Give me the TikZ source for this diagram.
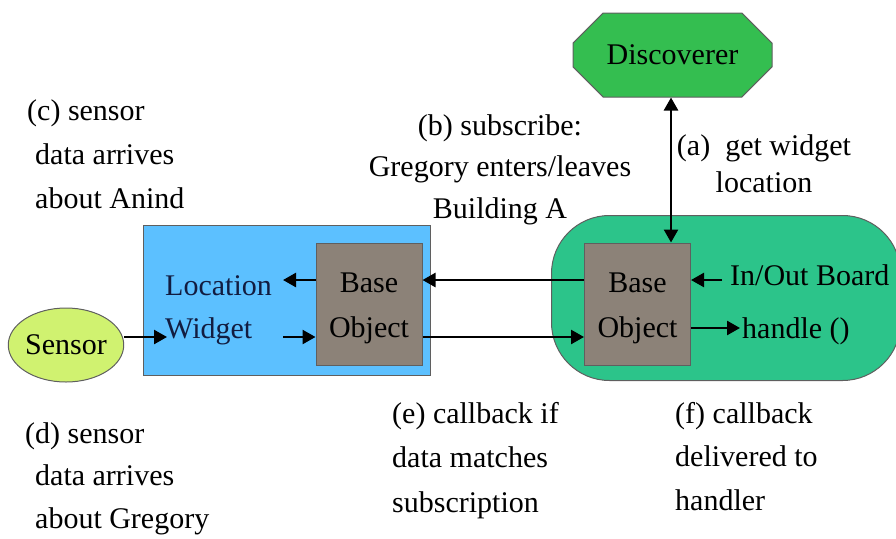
\documentclass[tikz,border=0pt]{standalone}
\usepackage{fontspec}
\setmainfont{Liberation Serif}
\usetikzlibrary{arrows.meta,shapes.misc,shapes.geometric}

\definecolor{discgreen}{RGB}{52,190,80}
\definecolor{widgetblue}{RGB}{92,192,255}
\definecolor{boardgreen}{RGB}{44,196,138}
\definecolor{sensorgreen}{RGB}{208,242,112}
\definecolor{basebrown}{RGB}{140,130,120}
\definecolor{edgegray}{RGB}{95,95,95}
\definecolor{navy}{RGB}{18,28,64}

\newcommand\lblfont[1]{\fontsize{30}{#1}\selectfont}

\tikzset{
  box/.style={draw=edgegray, line width=1pt},
  baseobj/.style={box, fill=basebrown, minimum width=106pt, minimum height=122pt,
    inner sep=0pt, align=center, font=\lblfont{45}},
  arr/.style={line width=2.5pt, -{Triangle[length=13pt,width=14pt]}},
  biarr/.style={line width=2.5pt, {Triangle[length=13pt,width=14pt]}-{Triangle[length=13pt,width=14pt]}},
  lbl/.style={inner sep=0pt, anchor=base west, align=left},
}

\begin{document}
\begin{tikzpicture}[x=1pt,y=-1pt]
\useasboundingbox (0,0) rectangle (896,538);

% containers
\node[box, fill=boardgreen, rounded corners=58pt, minimum width=349pt, minimum height=165pt,
      anchor=north west] (board) at (551,215) {};
\node[box, fill=widgetblue, minimum width=287pt, minimum height=150pt,
      anchor=north west] (widget) at (143,225) {};

% discoverer
\node[box, fill=discgreen, chamfered rectangle, chamfered rectangle xsep=20pt,
      chamfered rectangle ysep=20pt, minimum width=199pt, minimum height=84pt,
      inner sep=0pt, font=\lblfont{40}] (disc) at (672.5,55) {Discoverer};

% sensor
\node[box, fill=sensorgreen, ellipse, minimum width=107pt, minimum height=74pt,
      inner sep=0pt, font=\lblfont{40}] (sensor) at (66,345) {Sensor};

% base objects (the strut lowers the two lines a little)
\node[baseobj] (lbase) at (369,304) {\rule{0pt}{28pt}Base\\Object};
\node[baseobj] (rbase) at (637.5,304) {\rule{0pt}{28pt}Base\\Object};

% text inside containers (multi-line nodes are anchored at their last baseline)
\node[lbl, text=navy, font=\lblfont{43}] (loc) at (165,338) {Location\\Widget};
\node[lbl, font=\lblfont{40}] (io) at (730,285) {In/Out Board};
\node[lbl, font=\lblfont{40}] (handle) at (742,338) {handle ()};

% annotations
\node[lbl, font=\lblfont{44}] (notec) at (27,208)
  {(c) sensor\\\hspace*{8pt}data arrives\\\hspace*{8pt}about Anind};
\node[inner sep=0pt, anchor=base, align=center, font=\lblfont{41.5}] (noteb) at (500,218)
  {(b) subscribe:\\Gregory enters/leaves\\Building A};
\node[inner sep=0pt, anchor=base, align=center, font=\lblfont{37}] (notea) at (764,192)
  {(a)\ \ get widget\\location};
\node[lbl, font=\lblfont{42.5}] (noted) at (25,528)
  {(d) sensor\\\hspace*{10pt}data arrives\\\hspace*{10pt}about Gregory};
\node[lbl, font=\lblfont{44.5}] (notee) at (392,512)
  {(e) callback if\\data matches\\subscription};
\node[lbl, font=\lblfont{43.5}] (notef) at (675,510)
  {(f) callback\\delivered to\\handler};

% free ends of connectors
\coordinate (wtip) at (167,337);
\coordinate (lout) at (283,280);
\coordinate (lin) at (283,337);
\coordinate (ioend) at (722,280);
\coordinate (hend) at (740,328);
\coordinate (alink) at (671,0);
\coordinate (upper) at (0,280);
\coordinate (lower) at (0,337);

% connectors
\draw[biarr] (disc.south -| alink) -- (rbase.north -| alink);
\draw[arr] (sensor.east |- wtip) -- (wtip);
\draw[arr] (lbase.west |- upper) -- (lout);
\draw[arr] (lin) -- (lbase.west |- lower);
\draw[arr] (rbase.west |- upper) -- (lbase.east |- upper);
\draw[arr] (lbase.east |- lower) -- (rbase.west |- lower);
\draw[arr] (ioend) -- (rbase.east |- ioend);
\draw[arr] (rbase.east |- hend) -- (hend);
\end{tikzpicture}
\end{document}
